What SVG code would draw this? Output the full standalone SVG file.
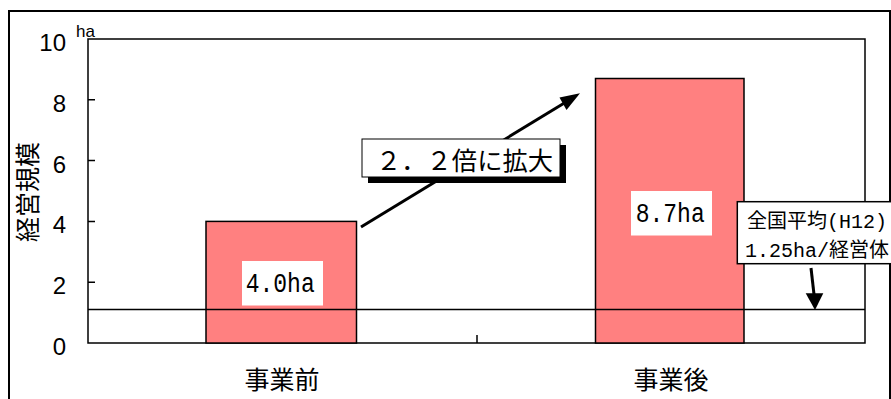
<svg xmlns="http://www.w3.org/2000/svg" width="891" height="399" viewBox="0 0 891 399">
<style>
.ax{fill:none;stroke:#000;stroke-width:1.5}
.bar{fill:#FF8080;stroke:#000;stroke-width:1.5}
.tick{font-family:"Liberation Sans",Arial,sans-serif;font-size:24px;fill:#000;text-anchor:end}
.cjk{font-family:"Noto Sans CJK JP","Noto Sans CJK SC",sans-serif;fill:#000}
.mono{font-family:"Liberation Mono","Noto Sans CJK JP",monospace;fill:#000}
.lbl{fill:#fff;stroke:none}
.arr{stroke:#000;stroke-width:3;fill:none}
</style>
<rect width="891" height="399" fill="#fff"/>
<rect x="9" y="11" width="881" height="400" fill="none" stroke="#000" stroke-width="2"/>
<g id="axes">
<rect class="ax" x="88" y="39" width="777" height="304"/>
<path class="ax" d="M88 282.2H95M88 221.4H95M88 160.6H95M88 99.8H95M477 335V343"/>
<text class="tick" x="66" y="355">0</text>
<text class="tick" x="66" y="294.2">2</text>
<text class="tick" x="66" y="233.4">4</text>
<text class="tick" x="66" y="172.6">6</text>
<text class="tick" x="66" y="111.8">8</text>
<text class="tick" x="66" y="51">10</text>
<text x="76" y="37" font-family="Liberation Sans,Arial,sans-serif" font-size="17">ha</text>
<text class="cjk" font-size="25" text-anchor="middle" transform="translate(37,192) rotate(-90)">経営規模</text>
</g>
<g id="bar-before">
<rect class="bar" x="206" y="221.4" width="150.5" height="121.6"/>
<rect class="lbl" x="242" y="261" width="81" height="44.5"/>
<text class="mono" x="245.7" y="291.7" font-size="27" textLength="69" lengthAdjust="spacingAndGlyphs">4.0ha</text>
<text class="cjk" x="282" y="389" font-size="25" text-anchor="middle">事業前</text>
</g>
<g id="bar-after">
<rect class="bar" x="595.5" y="78.5" width="148.5" height="264.5"/>
<rect class="lbl" x="631" y="191" width="81" height="44.5"/>
<text class="mono" x="635.7" y="221.7" font-size="27" textLength="69" lengthAdjust="spacingAndGlyphs">8.7ha</text>
<text class="cjk" x="671" y="389" font-size="25" text-anchor="middle">事業後</text>
</g>
<g id="average-line">
<line x1="88" y1="309.5" x2="865" y2="309.5" stroke="#000" stroke-width="1.5"/>
</g>
<g id="connectors">
<line class="arr" x1="361" y1="227" x2="566" y2="102"/>
<polygon points="580,93.3 559.5,97.5 566.5,110" fill="#000"/>
<line class="arr" x1="811" y1="268" x2="814.3" y2="297"/>
<polygon points="805.7,293.3 823.3,293.3 815,310" fill="#000"/>
</g>
<g id="callout-ratio">
<rect x="368" y="145" width="198" height="38" fill="#000"/>
<rect x="362" y="139" width="198" height="38" fill="#fff" stroke="#000" stroke-width="1"/>
<text class="cjk" x="376" y="170" font-size="25" textLength="177" lengthAdjust="spacingAndGlyphs">２．２倍に拡大</text>
</g>
<g id="callout-average">
<rect x="737.3" y="201.7" width="170" height="62" fill="#fff" stroke="#000" stroke-width="1.5"/>
<text class="mono" x="747" y="228.3" font-size="20">全国平均(H12)</text>
<text class="mono" x="745" y="256.7" font-size="20">1.25ha/経営体</text>
</g>
</svg>
